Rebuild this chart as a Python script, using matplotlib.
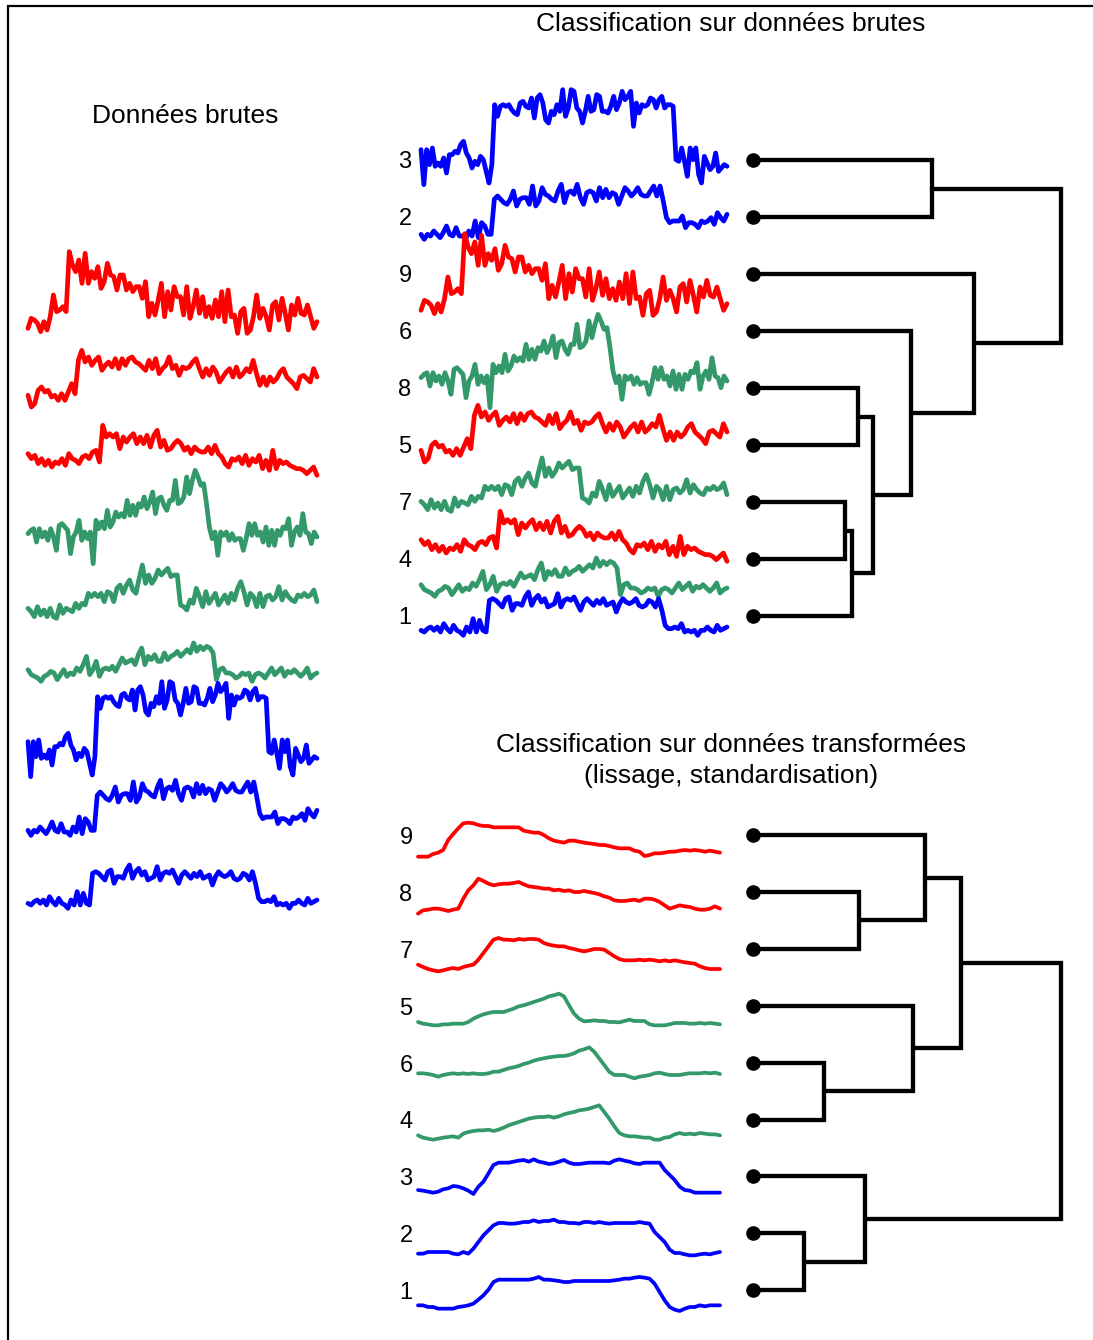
import numpy as np
import matplotlib.pyplot as plt

plt.rcParams['font.family'] = ['Liberation Sans', 'DejaVu Sans']

# ---- raw series (relative amplitude, larger = higher) ----
raw_red_a = [35, 65, 60, 50, 25, 55, 30, 70, 135, 85, 90, 100, 85, 265, 225, 205, 240, 170, 260, 170,
             205, 185, 220, 155, 175, 230, 195, 190, 150, 195, 195, 150, 170, 145, 160, 160, 125, 175, 70, 110,
             75, 120, 170, 70, 145, 90, 160, 130, 130, 75, 160, 65, 100, 150, 80, 130, 70, 100, 65, 120,
             70, 145, 55, 150, 70, 75, 20, 85, 95, 20, 30, 70, 135, 65, 95, 70, 30, 105, 115, 60,
             125, 80, 30, 105, 75, 125, 80, 75, 105, 70, 35, 55]
raw_red_b = [35, 0, 10, 50, 60, 45, 50, 30, 35, 20, 40, 20, 45, 70, 40, 140, 170, 135, 150, 125,
             140, 150, 110, 125, 135, 120, 145, 115, 145, 125, 145, 150, 135, 130, 120, 110, 140, 115, 145, 100,
             115, 125, 150, 115, 125, 95, 120, 115, 120, 135, 145, 115, 90, 115, 95, 120, 105, 75, 90, 105,
             115, 90, 120, 90, 100, 115, 105, 140, 100, 65, 90, 65, 90, 75, 85, 105, 115, 90, 80, 70,
             55, 90, 95, 85, 75, 115, 90]
raw_red_c = [70, 55, 65, 40, 55, 35, 50, 30, 45, 40, 55, 35, 70, 55, 50, 40, 60, 65, 55, 75,
             80, 45, 155, 120, 130, 120, 130, 85, 120, 105, 120, 130, 100, 120, 100, 125, 90, 125, 140, 90,
             110, 80, 85, 100, 110, 100, 80, 90, 70, 90, 80, 75, 75, 90, 70, 95, 70, 60, 40, 30,
             55, 50, 60, 40, 65, 35, 55, 45, 65, 25, 50, 20, 80, 25, 50, 40, 45, 35, 30, 25,
             25, 20, 10, 20, 30, 5]
raw_green_a = [100, 110, 115, 75, 115, 90, 105, 80, 115, 90, 50, 125, 130, 120, 110, 40, 90, 105, 140, 80,
               105, 85, 105, 10, 140, 115, 135, 115, 170, 120, 135, 165, 150, 160, 150, 200, 155, 185, 155, 190,
               180, 210, 175, 195, 225, 160, 205, 210, 185, 170, 200, 200, 260, 190, 195, 210, 270, 220, 260, 290,
               270, 245, 250, 190, 120, 85, 105, 35, 105, 95, 105, 80, 100, 80, 85, 85, 50, 85, 130, 95,
               130, 95, 105, 75, 120, 65, 110, 65, 110, 95, 120, 115, 145, 65, 105, 120, 95, 160, 105, 100,
               70, 105, 90]
raw_green_b = [35, 25, 10, 40, 15, 30, 10, 35, 10, 5, 45, 20, 35, 30, 25, 50, 35, 50, 45, 80,
               70, 80, 70, 80, 55, 85, 80, 55, 95, 105, 80, 105, 120, 90, 80, 125, 165, 110, 135, 110,
               125, 150, 135, 145, 155, 130, 135, 135, 45, 40, 30, 60, 50, 95, 70, 40, 85, 50, 65, 80,
               45, 60, 75, 50, 80, 60, 95, 115, 85, 45, 80, 70, 40, 80, 40, 70, 75, 60, 70, 100,
               60, 85, 70, 60, 55, 75, 70, 80, 70, 75, 90, 55]
raw_green_c = [40, 25, 20, 15, 5, 20, 25, 35, 30, 10, 25, 40, 20, 30, 25, 45, 35, 55, 80, 25,
               40, 65, 20, 40, 45, 40, 50, 35, 55, 75, 60, 65, 70, 55, 85, 105, 55, 80, 70, 85,
               65, 65, 90, 70, 80, 85, 95, 80, 90, 100, 90, 120, 95, 110, 100, 110, 105, 90, 10, 40,
               45, 30, 30, 25, 15, 20, 30, 25, 30, 5, 25, 30, 25, 15, 30, 45, 25, 35, 45, 20,
               35, 30, 40, 30, 20, 30, 45, 15, 25, 30]
raw_blue_a = [115, 10, 115, 70, 120, 65, 75, 65, 90, 45, 100, 100, 110, 105, 130, 140, 105, 90, 60, 80,
              70, 95, 85, 50, 15, 70, 250, 215, 245, 250, 245, 250, 235, 225, 220, 255, 260, 245, 240, 270,
              210, 270, 280, 255, 205, 195, 230, 220, 250, 230, 295, 215, 240, 295, 290, 240, 230, 195, 230, 275,
              230, 235, 280, 275, 230, 230, 225, 245, 275, 235, 255, 290, 265, 275, 290, 185, 255, 225, 250, 245,
              250, 270, 265, 240, 265, 275, 240, 250, 250, 245, 85, 80, 120, 80, 35, 120, 85, 120, 40, 15,
              95, 75, 55, 65, 105, 50, 60, 70, 65]
raw_blue_b = [20, 5, 20, 15, 30, 20, 10, 25, 45, 20, 15, 40, 15, 15, 5, 30, 15, 60, 10, 55,
              45, 20, 20, 125, 135, 125, 115, 110, 125, 150, 105, 125, 130, 130, 110, 165, 105, 120, 160, 140,
              135, 125, 120, 150, 170, 115, 145, 150, 140, 170, 130, 110, 145, 150, 145, 120, 160, 130, 155, 130,
              145, 140, 110, 135, 160, 150, 135, 145, 160, 140, 135, 135, 150, 165, 135, 165, 120, 70, 55, 60,
              60, 60, 75, 40, 55, 55, 50, 40, 60, 55, 60, 70, 50, 85, 70, 60, 80]
raw_blue_c = [20, 15, 25, 30, 20, 30, 15, 40, 25, 15, 35, 20, 15, 5, 30, 15, 55, 15, 50, 20,
              15, 110, 115, 110, 100, 90, 115, 120, 80, 100, 100, 95, 120, 135, 95, 115, 125, 105, 115, 90,
              95, 100, 130, 90, 110, 115, 110, 120, 100, 80, 105, 115, 105, 95, 110, 100, 115, 95, 100, 105,
              75, 100, 115, 105, 100, 105, 115, 95, 90, 95, 110, 105, 90, 115, 80, 35, 25, 25, 30, 25,
              40, 15, 20, 15, 20, 5, 20, 20, 30, 20, 15, 35, 20, 25, 30]

# ---- smoothed / standardised series ----
smooth_9 = [10, 10, 10, 18, 22, 30, 60, 78, 95, 110, 112, 110, 105, 102, 102, 98, 98, 98, 98, 98,
            98, 88, 85, 82, 82, 75, 65, 58, 55, 52, 58, 58, 55, 52, 50, 48, 45, 45, 42, 38,
            35, 35, 35, 28, 25, 12, 15, 20, 20, 22, 25, 25, 28, 30, 28, 30, 28, 25, 28, 25, 22]
smooth_8 = [10, 20, 22, 25, 25, 22, 18, 22, 25, 55, 80, 95, 115, 108, 100, 95, 98, 100, 100, 102,
            105, 98, 92, 90, 88, 85, 85, 80, 82, 78, 80, 75, 75, 78, 75, 72, 68, 62, 58, 50,
            48, 48, 50, 52, 48, 55, 55, 52, 45, 35, 25, 30, 35, 32, 30, 25, 22, 22, 25, 32, 25]
smooth_7 = [25, 18, 12, 8, 5, 8, 12, 15, 12, 18, 22, 25, 40, 60, 80, 100, 105, 100, 100, 98,
            102, 100, 102, 102, 100, 90, 85, 82, 80, 80, 75, 72, 68, 65, 68, 72, 72, 70, 60, 50,
            42, 38, 38, 38, 40, 38, 40, 38, 35, 38, 35, 38, 35, 32, 30, 28, 20, 15, 12, 12, 12]
smooth_5 = [15, 10, 8, 5, 5, 8, 8, 10, 10, 10, 15, 25, 32, 38, 42, 45, 45, 45, 50, 55,
            62, 65, 70, 75, 80, 85, 92, 95, 100, 92, 65, 40, 25, 17, 18, 20, 18, 18, 15, 15,
            14, 18, 22, 18, 18, 18, 8, 5, 5, 5, 8, 12, 12, 12, 10, 10, 12, 10, 12, 10, 8]
smooth_6 = [20, 20, 18, 15, 10, 15, 18, 20, 18, 20, 18, 20, 18, 18, 20, 25, 25, 30, 35, 38,
            42, 48, 52, 58, 62, 65, 68, 70, 72, 72, 75, 80, 88, 92, 98, 85, 65, 45, 25, 15,
            15, 15, 10, 5, 10, 12, 15, 20, 22, 18, 15, 15, 15, 18, 20, 20, 20, 22, 20, 22, 18]
smooth_4 = [20, 13, 10, 7, 10, 13, 15, 17, 13, 25, 30, 33, 35, 35, 37, 33, 37, 43, 50, 55,
            60, 65, 70, 73, 75, 75, 77, 73, 77, 83, 87, 90, 95, 97, 100, 105, 110, 90, 70, 47,
            27, 20, 17, 17, 15, 13, 13, 7, 7, 13, 15, 23, 27, 23, 25, 23, 27, 25, 23, 23, 20]
smooth_3 = [15, 13, 10, 7, 10, 17, 20, 27, 25, 20, 13, 3, 25, 40, 65, 90, 97, 97, 97, 100,
            103, 105, 100, 107, 100, 97, 93, 95, 100, 105, 97, 93, 93, 95, 97, 97, 97, 97, 95, 103,
            107, 103, 100, 95, 93, 97, 97, 97, 97, 75, 60, 45, 25, 15, 13, 7, 7, 7, 7, 7, 7]
smooth_2 = [10, 10, 15, 15, 15, 15, 15, 10, 8, 15, 10, 25, 45, 65, 80, 95, 102, 102, 100, 100,
            102, 105, 105, 110, 105, 108, 108, 112, 105, 105, 102, 102, 100, 105, 105, 102, 105, 102, 100, 102,
            102, 102, 102, 102, 105, 102, 100, 75, 60, 45, 22, 12, 12, 8, 5, 5, 8, 10, 8, 12, 15]
smooth_1 = [20, 20, 15, 15, 10, 10, 10, 10, 15, 17, 20, 25, 37, 50, 67, 90, 97, 97, 97, 97,
            97, 97, 97, 100, 105, 97, 97, 95, 93, 90, 90, 93, 93, 93, 93, 93, 93, 93, 93, 95,
            97, 100, 100, 103, 105, 103, 100, 85, 60, 35, 15, 7, 3, 10, 15, 15, 20, 17, 20, 20, 20]

RED, GREEN, BLUE = '#ff0000', '#33996a', '#0000ff'

# left panel: raw data, original order
left_series = [raw_red_a, raw_red_b, raw_red_c, raw_green_a, raw_green_b, raw_green_c,
               raw_blue_a, raw_blue_b, raw_blue_c]
left_colors = [RED, RED, RED, GREEN, GREEN, GREEN, BLUE, BLUE, BLUE]
left_base = [340, 407, 477, 567, 620, 683, 780, 837, 910]

# top right: raw data in dendrogram order
top_series = [raw_blue_a, raw_blue_b, raw_red_a, raw_green_a, raw_red_b, raw_green_b,
              raw_red_c, raw_green_c, raw_blue_c]
top_colors = [BLUE, BLUE, RED, GREEN, RED, GREEN, RED, GREEN, BLUE]
top_base = [188, 241, 322, 411, 462, 513, 563, 598, 637]
top_labels = ['3', '2', '9', '6', '8', '5', '7', '4', '1']
# merges: (child a, child b, height); leaves 0..8, new clusters from 9
top_pairs = [(0, 1), (4, 5), (6, 7), (11, 8), (10, 12), (3, 13), (2, 14), (9, 15)]
top_heights = [58.2, 34.1, 29.8, 32.3, 38.8, 51.4, 71.7, 100]

# bottom right: smoothed data
bot_series = [smooth_9, smooth_8, smooth_7, smooth_5, smooth_6, smooth_4, smooth_3, smooth_2, smooth_1]
bot_colors = [RED, RED, RED, GREEN, GREEN, GREEN, BLUE, BLUE, BLUE]
bot_base = [860, 917, 973, 1027, 1080, 1142, 1195, 1257, 1312]
bot_labels = ['9', '8', '7', '5', '6', '4', '3', '2', '1']
bot_pairs = [(1, 2), (0, 9), (4, 5), (3, 11), (10, 12), (7, 8), (6, 14), (13, 15)]
bot_heights = [34.3, 56.0, 22.9, 52.0, 67.4, 16.4, 36.3, 100]

W, H = 1093, 1340
fig = plt.figure(figsize=(W / 100, H / 100), dpi=100)
ax = fig.add_axes([0, 0, 1, 1])
ax.set_xlim(0, W)
ax.set_ylim(H, 0)
ax.axis('off')


def draw_series(series, colors, bases, x0, x1, lw):
    for vals, col, b in zip(series, colors, bases):
        vals = np.asarray(vals, dtype=float)
        xs = np.linspace(x0, x1, len(vals))
        ax.plot(xs, b - vals / 3.0, color=col, lw=lw, solid_joinstyle='round',
                solid_capstyle='round')


def draw_dendro(pairs, heights, y0, step, x0=753, scale=3.08):
    n = len(pairs) + 1
    pos = {i: (x0, y0 + i * step) for i in range(n)}
    for k, ((a, b), h) in enumerate(zip(pairs, heights)):
        xa, ya = pos[a]
        xb, yb = pos[b]
        xh = x0 + h * scale
        ax.plot([xa, xh, xh, xb], [ya, ya, yb, yb], color='black', lw=3.1,
                solid_joinstyle='miter', solid_capstyle='butt')
        pos[n + k] = (xh, (ya + yb) / 2)
    ax.plot([x0] * n, [y0 + i * step for i in range(n)], 'o', color='black', ms=9.5)


# left panel
draw_series(left_series, left_colors, left_base, 28, 317, 3.4)
ax.text(185, 116, 'Données brutes', ha='center', va='center', fontsize=19)

# top right panel
draw_series(top_series, top_colors, top_base, 421, 727, 3.4)
draw_dendro(top_pairs, top_heights, 160, 57)
for i, lab in enumerate(top_labels):
    ax.text(405, 162 + i * 57, lab, ha='center', va='center', fontsize=17)
ax.text(731, 24, 'Classification sur données brutes', ha='center', va='center', fontsize=19)

# bottom right panel
draw_series(bot_series, bot_colors, bot_base, 418, 720, 2.7)
draw_dendro(bot_pairs, bot_heights, 835, 56.9)
for i, lab in enumerate(bot_labels):
    ax.text(406, 838 + i * 56.9, lab, ha='center', va='center', fontsize=17)
ax.text(731, 745, 'Classification sur données transformées', ha='center', va='center', fontsize=19)
ax.text(731, 776, '(lissage, standardisation)', ha='center', va='center', fontsize=19)

# frame (left and top edges only)
ax.plot([8, 8, W], [H, 6, 6], color='black', lw=1.6, solid_joinstyle='miter')

fig.savefig('out.png', dpi=100)
